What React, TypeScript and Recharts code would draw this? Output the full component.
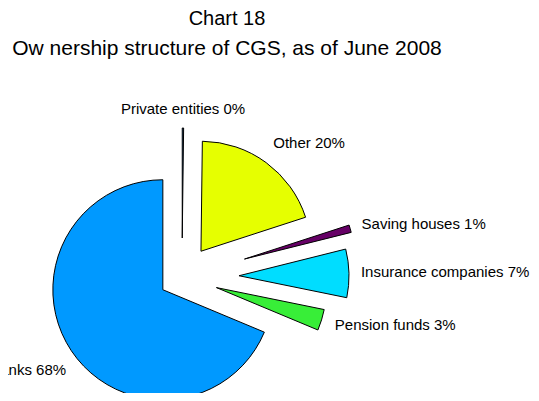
import {PieChart, Pie, Cell} from "recharts";

// slices clockwise from 12 o'clock
const names = ["Private entities", "Other", "Saving houses", "Insurance companies", "Pension funds", "Banks"];
const shares = [0.2, 19.8, 1.1, 7.1, 3.1, 68.7];
const shownPct = [0, 20, 1, 7, 3, 68];
const colors = ["#1d5f9c", "#e6ff00", "#660066", "#00ddff", "#38ee38", "#0099ff"];

// how far each slice is pulled out (px)
const explode = [39, 32, 65, 57, 36, 23];
// small label nudges [dx, dy]
const labelNudge = [[0, -3], [-3, -6], [-5, -1], [-5, -1], [-3, 0], [9, 9]];

const CX = 177;
const CY = 272;
const R = 110;
const RAD = Math.PI / 180;

const data = names.map((name, i) => ({name, value: shares[i], pct: shownPct[i]}));

const total = shares.reduce((a, b) => a + b, 0);
const offsets = shares.map((v, i) => {
    const before = shares.slice(0, i).reduce((a, b) => a + b, 0);
    const mid = ((before + v / 2) / total) * 360; // clockwise from top
    return {dx: explode[i] * Math.sin(mid * RAD), dy: -explode[i] * Math.cos(mid * RAD)};
});

const makeLabel = (slice: number) => (props: any) => {
    const {cx, cy, midAngle, outerRadius, index} = props;
    if (index !== slice) return null;
    const r = outerRadius + 17;
    const c = Math.cos(-midAngle * RAD);
    const x = cx + r * c + labelNudge[index][0];
    const y = cy + r * Math.sin(-midAngle * RAD) + labelNudge[index][1];
    const anchor = c > 0.3 ? "start" : c < -0.3 ? "end" : "middle";
    return (
        <text x={x} y={y} textAnchor={anchor} dominantBaseline="central"
              fontSize={15} fill="#000" fontFamily="'Liberation Sans', Arial, sans-serif">
            {`${data[index].name} ${data[index].pct}%`}
        </text>
    );
};

export default function App() {
    return (
        <div style={{position: "relative", width: 539, height: 401, margin: -8, background: "#fff",
            fontFamily: "'Liberation Sans', Arial, sans-serif"}}>
            <div style={{position: "absolute", left: 0, top: 6, width: 454, textAlign: "center",
                fontSize: 20, lineHeight: "24px"}}>
                Chart 18
            </div>
            <div style={{position: "absolute", left: 0, top: 36, width: 454, textAlign: "center",
                fontSize: 21, lineHeight: "24px", whiteSpace: "nowrap"}}>
                Ow nership structure of CGS, as of June 2008
            </div>
            <div style={{position: "absolute", left: 0, top: 0}}>
                <PieChart width={539} height={401}>
                    {names.map((n, s) => (
                        <Pie
                            key={n}
                            data={data}
                            dataKey="value"
                            cx={CX + offsets[s].dx}
                            cy={CY + offsets[s].dy}
                            outerRadius={R}
                            startAngle={90}
                            endAngle={-270}
                            label={makeLabel(s)}
                            labelLine={false}
                            isAnimationActive={false}
                        >
                            {data.map((d, i) => (
                                <Cell key={d.name}
                                      fill={i === s ? colors[i] : "none"}
                                      stroke={i === s ? "#000" : "none"}
                                      strokeWidth={1}/>
                            ))}
                        </Pie>
                    ))}
                </PieChart>
            </div>
        </div>
    );
}
